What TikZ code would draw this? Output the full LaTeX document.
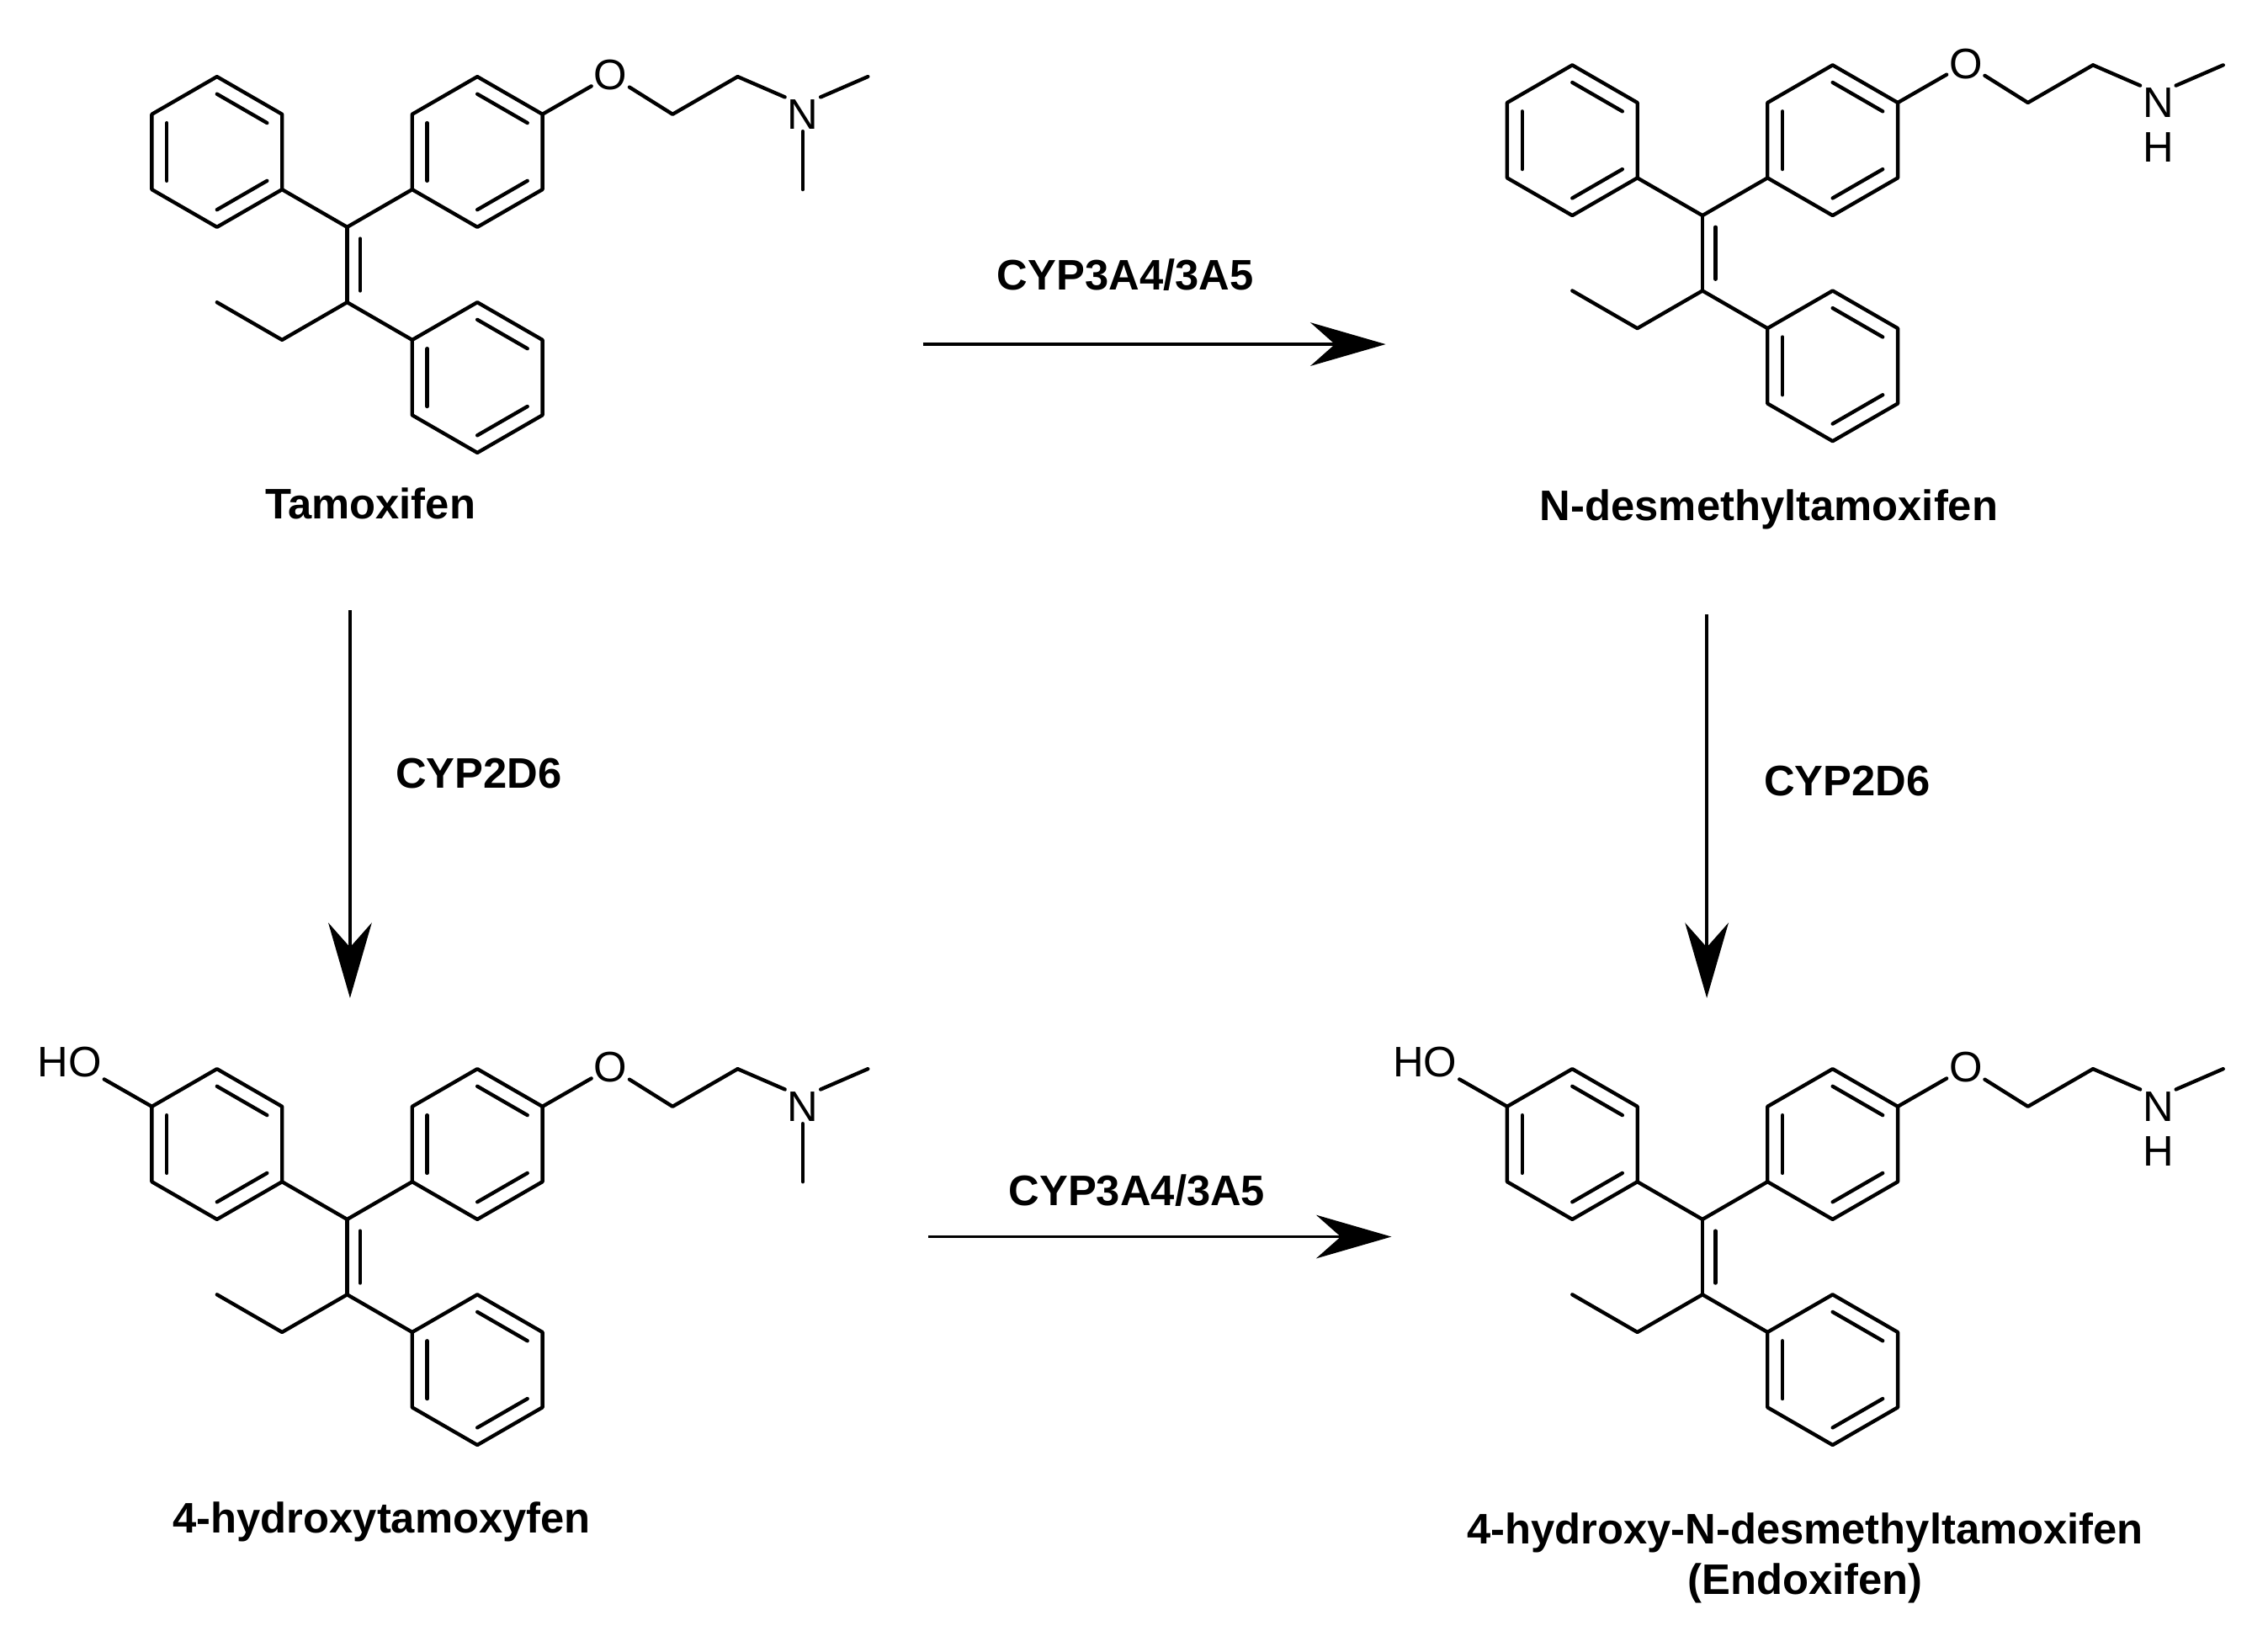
\documentclass[tikz,border=0pt]{standalone}
\usepackage{fontspec}
\setmainfont{Liberation Sans}
\usetikzlibrary{arrows.meta}
\tikzset{
 bond/.style={line width=1.8pt,line cap=round,line join=round},
 atom/.style={inner sep=1pt,font=\fontsize{21}{25}\selectfont},
 lbl/.style={font=\bfseries\fontsize{21}{25}\selectfont},
 rxn/.style={line width=1.6pt,-{Stealth[length=13mm,width=7.5mm]}}
}
\newcommand\ringdraw[2]{%
 \draw[bond] (#1,#2) ++(30:52) \foreach \a in {90,150,...,390}{ -- ($(#1,#2)+(\a:52)$)} -- cycle;
 \foreach \a in {30,150,270}{\draw[bond] ($(#1,#2)+(\a:40)$) -- ($(#1,#2)+(\a+60:40)$);}
}
\usetikzlibrary{calc}
\newcommand\molecule[5]{%
\begin{scope}[shift={(#1,#2)}]
 \ringdraw{150}{105}\ringdraw{330}{105}\ringdraw{330}{261}
 \coordinate (#5c1) at (240,157); \coordinate (#5c2) at (240,209);
 \draw[bond] (195,131) -- (#5c1) -- (285,131);
 \draw[bond] (#5c1) -- (#5c2);
 \draw[bond] ($(#5c1)+(9,8)$) -- ($(#5c2)+(9,-8)$);
 \draw[bond] (150,209) -- (195,235) -- (#5c2) -- (285,235);
 \node[atom] (#5O) at (422,52) {O};
 \draw[bond] (375,79) -- (#5O) -- (465,79) -- (510,53);
 \ifnum#4=1
  \node[atom] (#5N) at (555,79) {N};
  \node[atom] (#5H) at (555,110) {H};
  \draw[bond] (510,53) -- (#5N.north west); \draw[bond] (#5N.north east) -- (600,53);
 \else
  \node[atom] (#5N) at (555,79) {N};
  \draw[bond] (510,53) -- (#5N.north west); \draw[bond] (#5N.north east) -- (600,53);
  \draw[bond] (#5N) -- (555,131);
 \fi
 \ifnum#3=1
  \node[atom,anchor=east] (#5OH) at (72,48) {HO};
  \draw[bond] (105,79) -- (#5OH.south east);
 \fi
\end{scope}}
\begin{document}
\begin{tikzpicture}[x=0.25mm,y=-0.25mm]
\useasboundingbox (0,0) rectangle (1568,1142);
\molecule{0}{0}{0}{0}{a}
\molecule{937}{-8}{0}{1}{b}
\molecule{0}{686}{1}{0}{c}
\molecule{937}{686}{1}{1}{d}
\node[lbl] (ta) at (256,348) {Tamoxifen};
\node[lbl] (tb) at (1223,352) {N-desmethyltamoxifen};
\node[lbl] (tc) at (264,1052) {4-hydroxytamoxyfen};
\node[lbl,align=center] (td) at (1248,1077) {4-hydroxy-N-desmethyltamoxifen\\(Endoxifen)};
\coordinate (h1s) at (638,238); \coordinate (h1e) at (958,238);
\coordinate (h2s) at (642,855); \coordinate (h2e) at (962,855);
\coordinate (v1s) at (242,422); \coordinate (v1e) at (242,690);
\coordinate (v2s) at (1180,425); \coordinate (v2e) at (1180,690);
\draw[rxn] (h1s) -- (h1e); \draw[rxn] (h2s) -- (h2e);
\draw[rxn] (v1s) -- (v1e); \draw[rxn] (v2s) -- (v2e);
\node[lbl] (l1) at (778,190) {CYP3A4/3A5};
\node[lbl] (l2) at (786,823) {CYP3A4/3A5};
\node[lbl] (l3) at (331,535) {CYP2D6};
\node[lbl] (l4) at (1277,540) {CYP2D6};
\end{tikzpicture}
\end{document}
